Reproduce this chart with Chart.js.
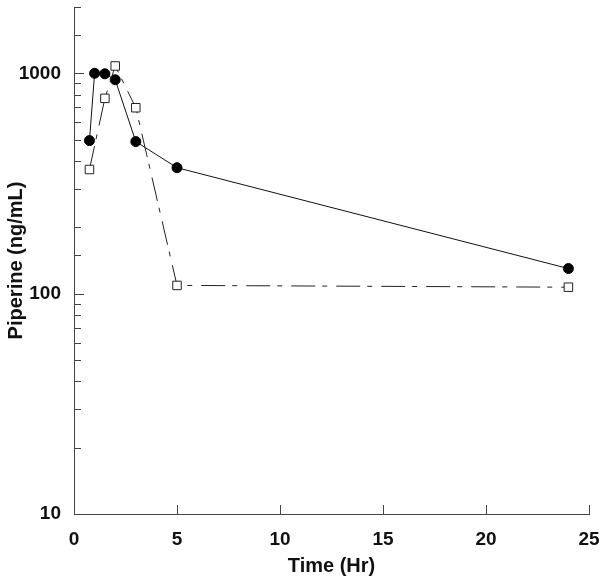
<!DOCTYPE html>
<html>
<head>
<meta charset="utf-8">
<script src="https://cdn.jsdelivr.net/npm/chart.js@4"></script>
<style>
  html, body { margin: 0; padding: 0; background: #fff; }
  #wrap { width: 600px; height: 582px; position: relative; }
</style>
</head>
<body>
<div id="wrap"><canvas id="chart"></canvas></div>
<script>
// filled circles (solid line)
const timeFilled = [0.75, 1, 1.5, 2, 3, 5, 24];
const concFilled = [495, 1000, 995, 935, 490, 373, 130];

// open squares (dash-dot line)
const timeOpen = [0.75, 1.5, 2, 3, 5, 24];
const concOpen = [366, 770, 1080, 698, 109, 107];

const xTicks = [0, 5, 10, 15, 20, 25];
const yLabels = [10, 100, 1000];

const toPoints = (xs, ys) => xs.map((x, i) => ({ x: x, y: ys[i] }));

const FONT = "'Liberation Sans', Arial, sans-serif";

// tick marks point inward, like the original
const inwardTicks = {
  id: "inwardTicks",
  afterDraw(chart) {
    const ctx = chart.ctx;
    const area = chart.chartArea;
    const xs = chart.scales.x;
    const ys = chart.scales.y;
    ctx.save();
    ctx.strokeStyle = "#444";
    ctx.lineWidth = 1;
    ctx.beginPath();
    xs.ticks.forEach((t) => {
      const px = Math.round(xs.getPixelForValue(t.value)) + 0.5;
      ctx.moveTo(px, area.bottom);
      ctx.lineTo(px, area.bottom - 9);
    });
    ys.ticks.forEach((t) => {
      const py = Math.round(ys.getPixelForValue(t.value)) + 0.5;
      const major = yLabels.includes(t.value);
      ctx.moveTo(area.left, py);
      ctx.lineTo(area.left + (major ? 10 : 7), py);
    });
    ctx.stroke();
    ctx.restore();
  },
};

new Chart(document.getElementById("chart"), {
  type: "line",
  data: {
    datasets: [
      {
        label: "open",
        data: toPoints(timeOpen, concOpen),
        borderColor: "#222",
        borderWidth: 1,
        borderDash: [24, 7, 5, 9],
        pointStyle: "rect",
        pointRadius: 6,
        pointBackgroundColor: "#fff",
        pointBorderColor: "#222",
        pointBorderWidth: 1,
        tension: 0,
      },
      {
        label: "filled",
        data: toPoints(timeFilled, concFilled),
        borderColor: "#111",
        borderWidth: 1,
        pointStyle: "circle",
        pointRadius: 5,
        pointBackgroundColor: "#000",
        pointBorderColor: "#000",
        tension: 0,
      },
    ],
  },
  options: {
    responsive: true,
    maintainAspectRatio: false,
    animation: false,
    layout: { padding: { top: 4, right: 11, left: 0, bottom: 0 } },
    plugins: { legend: { display: false }, tooltip: { enabled: false } },
    scales: {
      x: {
        type: "linear",
        min: 0,
        max: 25,
        afterBuildTicks: (scale) => {
          scale.ticks = xTicks.map((v) => ({ value: v }));
        },
        grid: { display: false, drawTicks: false },
        border: { display: true, color: "#444", width: 1 },
        ticks: {
          padding: 14,
          color: "#111",
          font: { family: FONT, size: 19, weight: "bold" },
        },
        title: {
          display: true,
          text: "Time (Hr)",
          color: "#111",
          font: { family: FONT, size: 20, weight: "bold" },
        },
        afterFit: (scale) => {
          scale.height = 68;
          scale.paddingLeft = 0;
          scale.paddingRight = 0;
        },
      },
      y: {
        type: "logarithmic",
        min: 10,
        max: 2000,
        grid: { display: false, drawTicks: false },
        border: { display: true, color: "#444", width: 1 },
        ticks: {
          autoSkip: false,
          padding: 13,
          color: "#111",
          font: { family: FONT, size: 19, weight: "bold" },
          callback: (v) => (yLabels.includes(v) ? String(v) : ""),
        },
        title: {
          display: true,
          text: "Piperine (ng/mL)",
          color: "#111",
          font: { family: FONT, size: 20, weight: "bold" },
        },
        afterFit: (scale) => {
          scale.width = 74;
          scale.paddingTop = 0;
          scale.paddingBottom = 0;
        },
      },
    },
  },
  plugins: [inwardTicks],
});
</script>
</body>
</html>
